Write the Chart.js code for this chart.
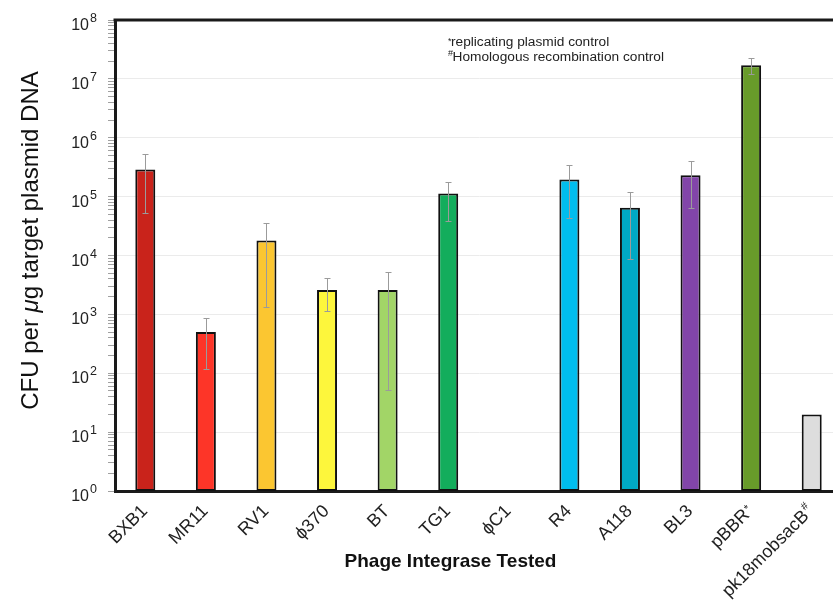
<!DOCTYPE html>
<html>
<head>
<meta charset="utf-8">
<title>CFU per µg target plasmid DNA by phage integrase</title>
<script src="https://cdn.jsdelivr.net/npm/chart.js@4.4.0/dist/chart.umd.min.js"></script>
<style>
  html, body { margin: 0; padding: 0; background: #fff; overflow: hidden; }
  #wrap { width: 850px; height: 602px; }
</style>
</head>
<body>
<div id="wrap"><canvas id="chart" width="850" height="602"></canvas></div>
<script>
// Integrases tested (plus the two controls)
const integrases = ['BXB1', 'MR11', 'RV1', 'ϕ370', 'BT', 'TG1', 'ϕC1', 'R4', 'A118', 'BL3', 'pBBR', 'pk18mobsacB'];
// Superscript marks appended to a label
const labelMarks = ['', '', '', '', '', '', '', '', '', '', '*', '#'];
// Mean CFU per µg of target plasmid DNA (ϕC1 gave no colonies)
const cfuMean = [2.9e5, 500, 1.8e4, 2.6e3, 2.6e3, 1.13e5, null, 1.96e5, 6.5e4, 2.3e5, 1.7e7, 20];
// Lower / upper ends of the error bars
const cfuLow  = [5.3e4, 120, 1.35e3, 1.15e3, 52, 3.9e4, null, 4.3e4, 8.7e3, 6.5e4, 1.2e7, null];
const cfuHigh = [5.3e5, 860, 3.5e4, 4.2e3, 5.2e3, 1.8e5, null, 3.5e5, 1.18e5, 4.05e5, 2.3e7, null];
// Bar fill colours
const barColors = ['#c9231b', '#fd3528', '#fbc631', '#fdf63c', '#a2d567', '#13ad5c', '#888888',
                   '#00bdee', '#00a9c5', '#8245a9', '#689b2a', '#dddddd'];
// Decades labelled on the y axis (10^0 … 10^8)
const decadeExponents = [0, 1, 2, 3, 4, 5, 6, 7, 8];
// Footnotes
const footnotes = [['*', 'replicating plasmid control'], ['#', 'Homologous recombination control']];

const FONT = "'Liberation Sans', Arial, Helvetica, sans-serif";

const decorations = {
  id: 'decorations',
  afterDatasetsDraw(chart) {
    const { ctx, scales: { x, y } } = chart;
    ctx.save();
    ctx.strokeStyle = '#9b9b9b';
    ctx.lineWidth = 1;
    cfuMean.forEach((v, i) => {
      if (v == null || cfuLow[i] == null) return;
      const px = Math.round(x.getPixelForValue(i)) + 0.5;
      const yl = Math.round(y.getPixelForValue(cfuLow[i])) + 0.5;
      const yh = Math.round(y.getPixelForValue(cfuHigh[i])) + 0.5;
      ctx.beginPath();
      ctx.moveTo(px, yl); ctx.lineTo(px, yh);
      ctx.moveTo(px - 3, yl); ctx.lineTo(px + 3, yl);
      ctx.moveTo(px - 3, yh); ctx.lineTo(px + 3, yh);
      ctx.stroke();
    });
    ctx.restore();
  },
  afterDraw(chart) {
    const { ctx, chartArea: a, scales: { x, y } } = chart;
    ctx.save();

    // frame line along the top of the plot
    ctx.strokeStyle = '#1a1a1a';
    ctx.lineWidth = 3;
    ctx.beginPath();
    ctx.moveTo(a.left - 1.5, a.top);
    ctx.lineTo(a.right, a.top);
    ctx.stroke();

    // y tick labels: 10 with a raised exponent
    ctx.fillStyle = '#222';
    decadeExponents.forEach(e => {
      const py = y.getPixelForValue(Math.pow(10, e));
      ctx.font = '16px ' + FONT;
      ctx.textAlign = 'right';
      ctx.textBaseline = 'alphabetic';
      ctx.fillText('10', a.left - 26, py + 10);
      ctx.font = '12.5px ' + FONT;
      ctx.textAlign = 'left';
      ctx.fillText(String(e), a.left - 25, py + 2);
    });

    // x tick labels, rotated 45°
    integrases.forEach((name, i) => {
      const px = x.getPixelForValue(i);
      ctx.save();
      ctx.translate(px + 3, a.bottom + 21);
      ctx.rotate(-Math.PI / 4);
      ctx.textBaseline = 'alphabetic';
      let end = 0;
      if (labelMarks[i]) {
        ctx.font = '11px ' + FONT;
        const mw = ctx.measureText(labelMarks[i]).width;
        ctx.textAlign = 'right';
        ctx.fillText(labelMarks[i], 0, labelMarks[i] === '*' ? -4 : -8);
        end = -mw - 1;
      }
      ctx.font = '18px ' + FONT;
      ctx.textAlign = 'right';
      ctx.fillText(name, end, 0);
      ctx.restore();
    });

    // x axis title
    ctx.fillStyle = '#111';
    ctx.font = 'bold 19px ' + FONT;
    ctx.textAlign = 'center';
    ctx.textBaseline = 'alphabetic';
    ctx.fillText('Phage Integrase Tested', a.left + a.width * 0.4615, a.bottom + 76);

    // y axis title with an italic µ
    const parts = [['CFU per ', ''], ['μ', 'italic '], ['g target plasmid DNA', '']];
    ctx.save();
    ctx.translate(38, (a.top + a.bottom) / 2 - 15);
    ctx.rotate(-Math.PI / 2);
    ctx.textAlign = 'left';
    let total = 0;
    parts.forEach(p => { ctx.font = p[1] + '24px ' + FONT; total += ctx.measureText(p[0]).width; });
    let cx = -total / 2;
    parts.forEach(p => {
      ctx.font = p[1] + '24px ' + FONT;
      ctx.fillText(p[0], cx, 0);
      cx += ctx.measureText(p[0]).width;
    });
    ctx.restore();

    // footnotes
    ctx.fillStyle = '#222';
    ctx.textAlign = 'left';
    footnotes.forEach((f, k) => {
      const bx = a.left + 333;
      const by = a.top + 26 + k * 15;
      ctx.font = '9px ' + FONT;
      ctx.fillText(f[0], bx, by - (f[0] === '*' ? 2 : 5));
      ctx.font = '13.7px ' + FONT;
      ctx.fillText(f[1], bx + (f[0] === '*' ? 3 : 4.5), by);
    });

    ctx.restore();
  }
};

new Chart(document.getElementById('chart'), {
  type: 'bar',
  data: {
    labels: integrases,
    datasets: [{
      data: cfuMean,
      backgroundColor: barColors,
      borderColor: '#111',
      borderWidth: 2,
      borderSkipped: false,
      barPercentage: 0.33,
      categoryPercentage: 1
    }]
  },
  options: {
    responsive: false,
    animation: false,
    layout: { padding: { top: 20, right: 8, left: 0, bottom: 0 } },
    plugins: { legend: { display: false }, tooltip: { enabled: false } },
    scales: {
      x: {
        offset: true,
        grid: { display: false },
        ticks: { display: false },
        border: { color: '#1a1a1a', width: 3 },
        afterFit(scale) { scale.height = 111; }
      },
      y: {
        type: 'logarithmic',
        min: 1,
        max: 1e8,
        ticks: { display: false, autoSkip: false },
        border: { color: '#1a1a1a', width: 3 },
        grid: {
          color: ctx => (ctx.tick && ctx.tick.major) ? '#ebebeb' : 'rgba(0,0,0,0)',
          lineWidth: 1,
          drawTicks: true,
          tickLength: 7,
          tickColor: '#a0a0a0',
          tickWidth: 1
        },
        afterBuildTicks(scale) {
          const t = [];
          for (let e = 0; e < 8; e++) {
            for (let m = 1; m < 10; m++) t.push({ value: m * Math.pow(10, e), major: m === 1 });
          }
          t.push({ value: 1e8, major: true });
          scale.ticks = t;
        },
        afterFit(scale) { scale.width = 115; }
      }
    }
  },
  plugins: [decorations]
});
</script>
</body>
</html>
